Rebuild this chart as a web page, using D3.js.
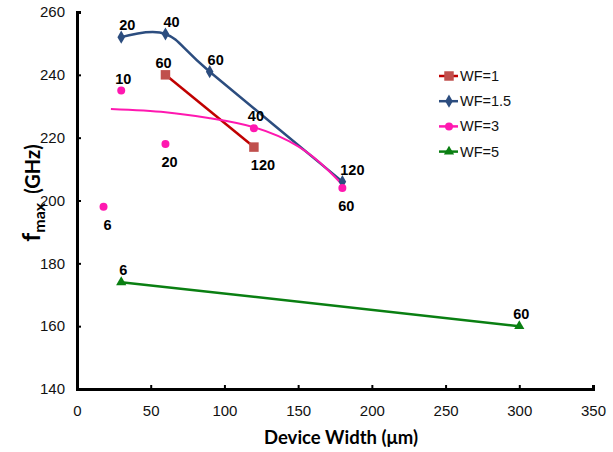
<!DOCTYPE html>
<html>
<head>
<meta charset="utf-8">
<script src="https://cdn.jsdelivr.net/npm/d3@7"></script>
<style>
  body { margin: 0; background: #fff; }
  svg { display: block; }
</style>
</head>
<body>
<svg id="svg" width="613" height="452"></svg>
<script>
// device width (um) / fmax (GHz), labels are gate finger counts
var wf1X = [60, 120];
var wf1Y = [240, 217];
var wf1Lab = ["60", "120"];
var wf1Side = ["up", "down"];

var wf15X = [30, 60, 90, 180];
var wf15Y = [252, 253, 241, 206];
var wf15Lab = ["20", "40", "60", "120"];
var wf15Side = ["up", "up", "up", "up"];

var wf3X = [18, 30, 60, 120, 180];
var wf3Y = [198, 235, 218, 223, 204];
var wf3Lab = ["6", "10", "20", "40", "60"];
var wf3Side = ["down", "up", "down", "up", "down"];

// trend line for WF=3
var trendX = [23, 60, 90, 120, 150, 170, 180];
var trendY = [229.1, 228.1, 226.2, 223.3, 217.2, 209.8, 205];

var wf5X = [30, 300];
var wf5Y = [174, 160];
var wf5Lab = ["6", "60"];
var wf5Side = ["up", "up"];

var xTicks = [0, 50, 100, 150, 200, 250, 300, 350];
var yTicks = [140, 160, 180, 200, 220, 240, 260];
var legendNames = ["WF=1", "WF=1.5", "WF=3", "WF=5"];

var svg = d3.select("#svg");
var plotLeft = 77, plotRight = 593, plotTop = 12, plotBottom = 389;

var x = d3.scaleLinear().domain([0, 350]).range([plotLeft, plotRight]);
var y = d3.scaleLinear().domain([140, 260]).range([plotBottom, plotTop]);

function zip(xs, ys){
  return xs.map(function(v, i){ return [v, ys[i]]; });
}

// axes
var xAxis = svg.append("g")
  .attr("transform", "translate(0," + plotBottom + ")")
  .call(d3.axisBottom(x).tickValues(xTicks).tickSize(-4).tickPadding(16));
var yAxis = svg.append("g")
  .attr("transform", "translate(" + plotLeft + ",0)")
  .call(d3.axisLeft(y).tickValues(yTicks).tickSize(-4).tickPadding(12));

[xAxis, yAxis].forEach(function(a){
  a.select(".domain").attr("stroke", "#000").attr("stroke-width", 3);
  a.selectAll(".tick line").attr("stroke", "#000").attr("stroke-width", 2);
  a.selectAll(".tick text")
    .attr("font-family", "Liberation Sans, Arial, sans-serif")
    .attr("font-size", "15px")
    .attr("fill", "#111");
});

// axis titles
svg.append("text")
  .attr("x", 341).attr("y", 444)
  .attr("text-anchor", "middle")
  .attr("font-family", "Lato, sans-serif")
  .attr("font-weight", "bold")
  .attr("font-size", "18.5px")
  .text("Device Width (\u03bcm)");

var yt = svg.append("text")
  .attr("transform", "translate(40,193) rotate(-90)")
  .attr("text-anchor", "middle")
  .attr("font-family", "Lato, sans-serif")
  .attr("font-weight", "bold")
  .attr("font-size", "20px");
yt.append("tspan").attr("font-size", "25px").text("f");
yt.append("tspan").attr("font-size", "16px").attr("dy", 5).text("max");
yt.append("tspan").attr("dy", -5).attr("dx", 9).text("(GHz)");

// series
var line = d3.line().x(function(d){ return x(d[0]); }).y(function(d){ return y(d[1]); });
var smooth = d3.line().curve(d3.curveCatmullRom.alpha(0))
  .x(function(d){ return x(d[0]); }).y(function(d){ return y(d[1]); });
var trend = d3.line().curve(d3.curveNatural)
  .x(function(d){ return x(d[0]); }).y(function(d){ return y(d[1]); });

svg.append("path").datum(zip(wf1X, wf1Y))
  .attr("d", line).attr("fill", "none").attr("stroke", "#C00000").attr("stroke-width", 2.5);
svg.append("path").datum(zip(wf15X, wf15Y))
  .attr("d", smooth).attr("fill", "none").attr("stroke", "#2C4D7F").attr("stroke-width", 2.5);
svg.append("path").datum(zip(trendX, trendY))
  .attr("d", trend).attr("fill", "none").attr("stroke", "#FF18B0").attr("stroke-width", 2);
svg.append("path").datum(zip(wf5X, wf5Y))
  .attr("d", line).attr("fill", "none").attr("stroke", "#0A7F12").attr("stroke-width", 2.5);

var sq = d3.symbol().type(d3.symbolSquare).size(90);
var dia = d3.symbol().type(d3.symbolDiamond).size(50);
var cir = d3.symbol().type(d3.symbolCircle).size(50);
var tri = d3.symbol().type(d3.symbolTriangle).size(45);

function markers(xs, ys, sym, col){
  svg.append("g").selectAll("path").data(zip(xs, ys)).enter()
    .append("path")
    .attr("d", sym)
    .attr("fill", col)
    .attr("transform", function(d){ return "translate(" + x(d[0]) + "," + y(d[1]) + ")"; });
}
markers(wf1X, wf1Y, sq, "#C0504D");
markers(wf15X, wf15Y, dia, "#2C4D7F");
markers(wf3X, wf3Y, cir, "#FF18B0");
markers(wf5X, wf5Y, tri, "#0A7F12");

function labels(xs, ys, labs, sides, dxUp, dxDown){
  svg.append("g").selectAll("text").data(labs).enter()
    .append("text")
    .attr("x", function(d, i){ return x(xs[i]) + (sides[i] == "up" ? dxUp : dxDown) + (d.length > 2 ? 4 : 0); })
    .attr("y", function(d, i){ return y(ys[i]) + (sides[i] == "up" ? -7 : 23); })
    .attr("text-anchor", "middle")
    .attr("font-family", "Liberation Sans, Arial, sans-serif")
    .attr("font-weight", "bold")
    .attr("font-size", "14.5px")
    .text(function(d){ return d; });
}
labels(wf1X, wf1Y, wf1Lab, wf1Side, -2, 5);
labels(wf15X, wf15Y, wf15Lab, wf15Side, 6, 6);
labels(wf3X, wf3Y, wf3Lab, wf3Side, 2, 4);
labels(wf5X, wf5Y, wf5Lab, wf5Side, 2, 2);

// legend
var legCols = ["#C00000", "#2C4D7F", "#FF18B0", "#0A7F12"];
var legMarkCols = ["#C0504D", "#2C4D7F", "#FF18B0", "#0A7F12"];
var legSyms = [sq, dia, cir, tri];
var leg = svg.append("g").selectAll("g").data(legendNames).enter()
  .append("g")
  .attr("transform", function(d, i){ return "translate(439," + (76 + i * 25.2) + ")"; });
leg.append("line")
  .attr("x1", 0).attr("x2", 19).attr("y1", 0).attr("y2", 0)
  .attr("stroke", function(d, i){ return legCols[i]; })
  .attr("stroke-width", 2.5);
leg.append("path")
  .attr("d", function(d, i){ return legSyms[i](); })
  .attr("transform", "translate(10,0)")
  .attr("fill", function(d, i){ return legMarkCols[i]; });
leg.append("text")
  .attr("x", 21).attr("y", 5)
  .attr("font-family", "Liberation Sans, Arial, sans-serif")
  .attr("font-size", "14.5px")
  .attr("fill", "#111")
  .text(function(d){ return d; });
</script>
</body>
</html>
